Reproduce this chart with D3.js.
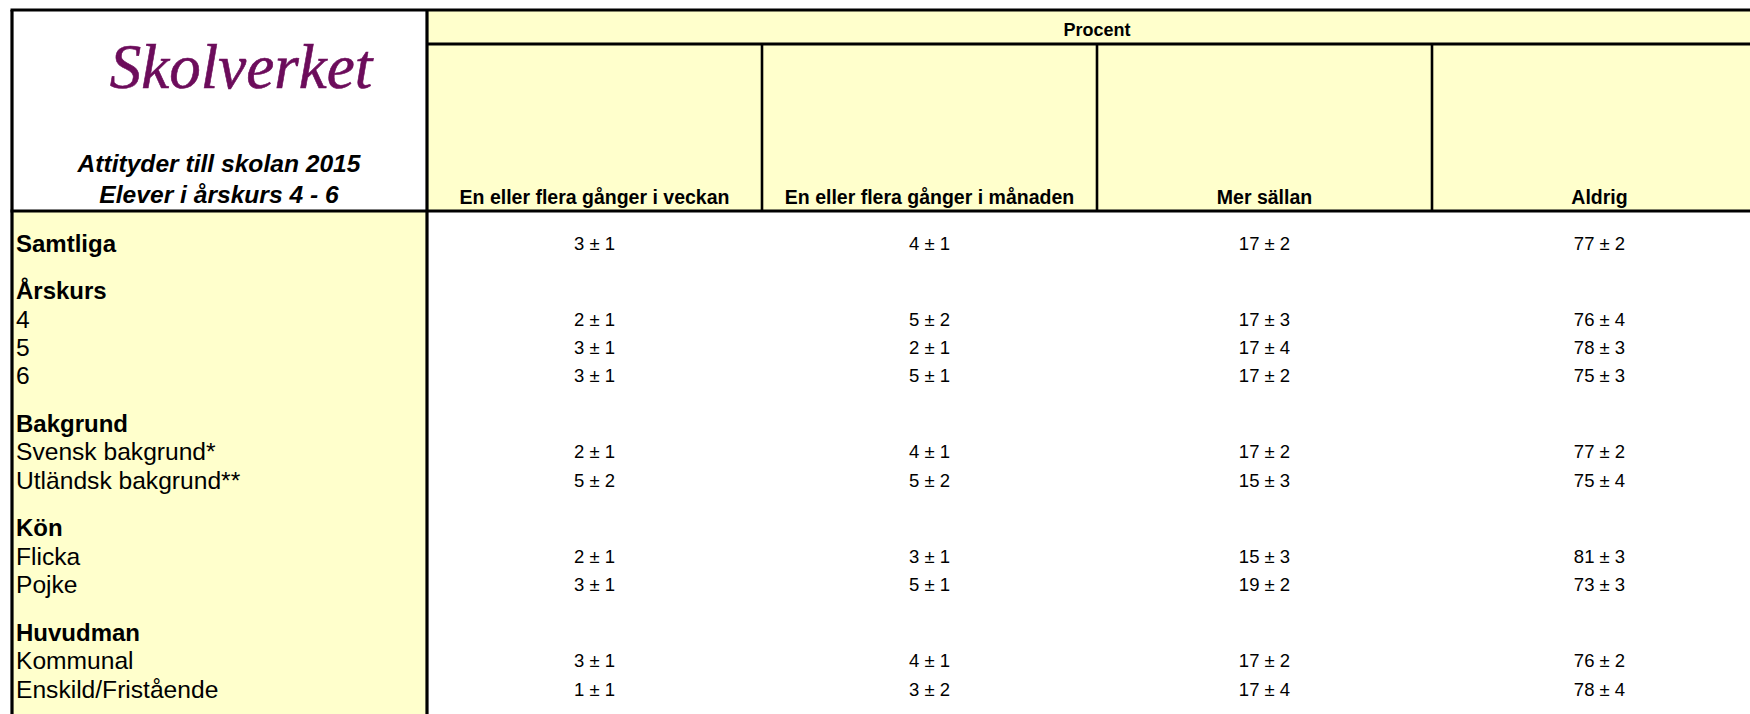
<!DOCTYPE html>
<html>
<head>
<meta charset="utf-8">
<script src="https://cdn.jsdelivr.net/npm/d3@7"></script>
<style>
  body { margin: 0; background: #fff; }
  svg { display: block; font-family: "Liberation Sans", Arial, sans-serif; }
</style>
</head>
<body>
<script>
// Data
var columns = ['En eller flera gånger i veckan', 'En eller flera gånger i månaden', 'Mer sällan', 'Aldrig'];
var rowLabels = ['Samtliga', 'Årskurs', '4', '5', '6', 'Bakgrund', 'Svensk bakgrund*', 'Utländsk bakgrund**',
  'Kön', 'Flicka', 'Pojke', 'Huvudman', 'Kommunal', 'Enskild/Fristående'];
var headings = ['Samtliga', 'Årskurs', 'Bakgrund', 'Kön', 'Huvudman'];

// percent and margin per column (null = heading row without values)
var veckan = [3, null, 2, 3, 3, null, 2, 5, null, 2, 3, null, 3, 1];
var veckanMargin = [1, null, 1, 1, 1, null, 1, 2, null, 1, 1, null, 1, 1];
var manaden = [4, null, 5, 2, 5, null, 4, 5, null, 3, 5, null, 4, 3];
var manadenMargin = [1, null, 2, 1, 1, null, 1, 2, null, 1, 1, null, 1, 2];
var sallan = [17, null, 17, 17, 17, null, 17, 15, null, 15, 19, null, 17, 17];
var sallanMargin = [2, null, 3, 4, 2, null, 2, 3, null, 3, 2, null, 2, 4];
var aldrig = [77, null, 76, 78, 75, null, 77, 75, null, 81, 73, null, 76, 78];
var aldrigMargin = [2, null, 4, 3, 3, null, 2, 4, null, 3, 3, null, 2, 4];

var title = ['Attityder till skolan 2015', 'Elever i årskurs 4 - 6'];

// Layout
var width = 1750;
var height = 714;
var leftX = 12, splitX = 427, topY = 10, procentY = 44, headY = 211;
var colW = 335;
var yellow = '#ffffcc';

var svg = d3.select('body').append('svg')
  .attr('width', width)
  .attr('height', height);

var x = d3.scaleBand()
  .domain(columns)
  .range([splitX, splitX + colW * columns.length]);

// slot of each row: one per row, plus a small gap before each heading
var gap = 0.69;
var slots = [];
var s = 0;
rowLabels.forEach(function (d, i) {
  if (i > 0 && headings.indexOf(d) >= 0) s += gap;
  slots.push(s);
  s += 1;
});
var y = d3.scaleLinear()
  .domain([0, 1])
  .range([243, 271.3]);

var table = columns.map(function (c, i) {
  var v = [veckan, manaden, sallan, aldrig][i];
  var m = [veckanMargin, manadenMargin, sallanMargin, aldrigMargin][i];
  return rowLabels.map(function (r, j) {
    return { col: c, row: j, value: v[j], margin: m[j] };
  });
});

// backgrounds
svg.append('rect')
  .attr('x', splitX).attr('y', topY)
  .attr('width', width - splitX).attr('height', headY - topY)
  .style('fill', yellow);
svg.append('rect')
  .attr('x', leftX).attr('y', headY)
  .attr('width', splitX - leftX).attr('height', height - headY)
  .style('fill', yellow);

// grid lines
var lines = [
  [leftX - 1.5, topY, width, topY, 3.2],
  [leftX, topY, leftX, height, 3.2],
  [splitX, topY, splitX, height, 3.2],
  [splitX, procentY, width, procentY, 3.2],
  [leftX - 1.5, headY, width, headY, 3.2]
];
columns.slice(1).forEach(function (c) {
  lines.push([x(c), procentY, x(c), headY, 2.6]);
});
svg.selectAll('line.grid')
  .data(lines)
  .enter().append('line')
  .attr('class', 'grid')
  .attr('x1', function (d) { return d[0]; })
  .attr('y1', function (d) { return d[1]; })
  .attr('x2', function (d) { return d[2]; })
  .attr('y2', function (d) { return d[3]; })
  .style('stroke', '#000')
  .style('stroke-width', function (d) { return d[4]; });

// logo and title
svg.append('text')
  .attr('x', 241).attr('y', 88)
  .attr('text-anchor', 'middle')
  .style('font-family', '"Liberation Serif", serif')
  .style('font-style', 'italic')
  .style('font-size', '63px')
  .style('fill', '#6c0c5b')
  .style('stroke', '#6c0c5b')
  .style('stroke-width', 0.6)
  .text('Skolverket');

svg.selectAll('text.title')
  .data(title)
  .enter().append('text')
  .attr('class', 'title')
  .attr('x', 219)
  .attr('y', function (d, i) { return 172 + i * 31; })
  .attr('text-anchor', 'middle')
  .style('font-weight', 'bold')
  .style('font-style', 'italic')
  .style('font-size', '24.6px')
  .text(function (d) { return d; });

// header
svg.append('text')
  .attr('x', x.range()[0] + (x.range()[1] - x.range()[0]) / 2)
  .attr('y', 36)
  .attr('text-anchor', 'middle')
  .style('font-weight', 'bold')
  .style('font-size', '18px')
  .text('Procent');

svg.selectAll('text.col')
  .data(columns)
  .enter().append('text')
  .attr('class', 'col')
  .attr('x', function (d) { return x(d) + x.bandwidth() / 2; })
  .attr('y', 204)
  .attr('text-anchor', 'middle')
  .style('font-weight', 'bold')
  .style('font-size', '19.5px')
  .text(function (d) { return d; });

// row labels
svg.selectAll('text.row')
  .data(rowLabels)
  .enter().append('text')
  .attr('class', 'row')
  .attr('x', 16)
  .attr('y', function (d, i) { return y(slots[i]) + 8.5; })
  .style('font-size', function (d) { return headings.indexOf(d) >= 0 ? '24px' : '24.6px'; })
  .style('font-weight', function (d) { return headings.indexOf(d) >= 0 ? 'bold' : null; })
  .text(function (d) { return d; });

// values
svg.selectAll('g.colvals')
  .data(table)
  .enter().append('g')
  .attr('class', 'colvals')
  .selectAll('text')
  .data(function (d) { return d.filter(function (e) { return e.value != null; }); })
  .enter().append('text')
  .attr('x', function (d) { return x(d.col) + x.bandwidth() / 2; })
  .attr('y', function (d) { return y(slots[d.row]) + 6.5; })
  .attr('text-anchor', 'middle')
  .style('font-size', '18.5px')
  .text(function (d) { return d.value + ' ± ' + d.margin; });
</script>
</body>
</html>
